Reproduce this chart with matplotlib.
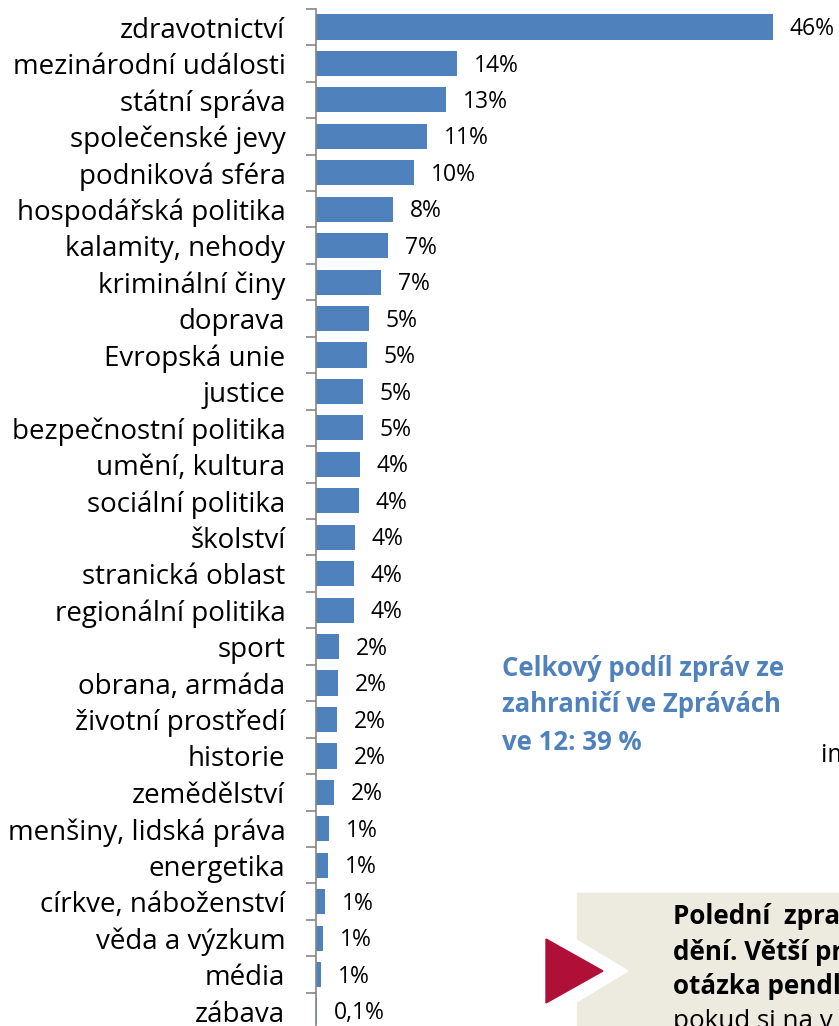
import numpy as np
import matplotlib.pyplot as plt
from matplotlib.patches import Rectangle, Polygon

# categories and share of news items (%)
categories = ['zdravotnictví', 'mezinárodní události', 'státní správa', 'společenské jevy',
              'podniková sféra', 'hospodářská politika', 'kalamity, nehody', 'kriminální činy',
              'doprava', 'Evropská unie', 'justice', 'bezpečnostní politika', 'umění, kultura',
              'sociální politika', 'školství', 'stranická oblast', 'regionální politika',
              'sport', 'obrana, armáda', 'životní prostředí', 'historie', 'zemědělství',
              'menšiny, lidská práva', 'energetika', 'církve, náboženství', 'věda a výzkum',
              'média', 'zábava']
values = [46.0, 14.2, 13.1, 11.2, 9.9, 7.8, 7.3, 6.6, 5.3, 5.1, 4.7, 4.7, 4.4, 4.3,
          3.9, 3.8, 3.8, 2.3, 2.2, 2.1, 2.1, 1.8, 1.3, 1.2, 0.9, 0.7, 0.5, 0.1]
labels = ['46%', '14%', '13%', '11%', '10%', '8%', '7%', '7%', '5%', '5%', '5%', '5%',
          '4%', '4%', '4%', '4%', '4%', '2%', '2%', '2%', '2%', '2%', '1%', '1%', '1%',
          '1%', '1%', '0,1%']

plt.rcParams['font.family'] = ['Open Sans', 'DejaVu Sans']

W, H = 839, 1026
fig = plt.figure(figsize=(W / 100, H / 100), dpi=100)
ax = fig.add_axes([316 / W, 0, 1 - 316 / W, (H - 8.8) / H])

y = np.arange(len(categories))
ax.barh(y, values, height=0.69, color='#4F81BD')
for i in range(len(values)):
    ax.annotate(labels[i], (values[i], i), xytext=(12, -1.5), textcoords='offset points',
                va='center', ha='left', fontsize=16.5)

ax.set_ylim(27.41, -0.5)
ax.set_xlim(0, 52.7)
ax.set_yticks(y)
ax.set_yticklabels(categories, fontsize=20)
ax.tick_params(axis='y', length=0, pad=22)
ax.set_yticks(np.arange(-0.5, 27.5, 1), minor=True)
ax.tick_params(axis='y', which='minor', length=7, color='#868686', width=1.2)
ax.set_xticks([])
for s in ['top', 'right', 'bottom']:
    ax.spines[s].set_visible(False)
ax.spines['left'].set_color('#868686')
ax.spines['left'].set_linewidth(1.2)

# side note
blue = '#4F81BD'
fig.text(502 / W, 1 - 668 / H, 'Celkový podíl zpráv ze', color=blue, fontsize=18.5,
         fontweight='bold', va='center')
fig.text(502 / W, 1 - 705 / H, 'zahraničí ve Zprávách', color=blue, fontsize=18.5,
         fontweight='bold', va='center')
fig.text(502 / W, 1 - 742 / H, 've 12: 39 %', color=blue, fontsize=18.5,
         fontweight='bold', va='center')
fig.text(821 / W, 1 - 755 / H, 'im', color='black', fontsize=18, va='center')

# bottom right box
fig.patches.append(Rectangle((577 / W, 0), 1 - 577 / W, (H - 893) / H,
                             transform=fig.transFigure, color='#EDEBE0', zorder=0))
fig.patches.append(Polygon([(540 / W, 1 - 918 / H), (628 / W, 1 - 971 / H), (540 / W, 1 - 1024 / H)],
                           transform=fig.transFigure, color='white', zorder=1))
fig.patches.append(Polygon([(546 / W, 1 - 939 / H), (603 / W, 1 - 971 / H), (546 / W, 1 - 1003 / H)],
                           transform=fig.transFigure, color='#B01038', zorder=2))
box_lines = ['Polední  zpra', 'dění. Větší pr', 'otázka pendl']
for k, t in enumerate(box_lines):
    fig.text(673 / W, 1 - (917 + 35 * k) / H, t, fontsize=18.7, fontweight='bold',
             va='center', color='black')
fig.text(673 / W, 1 - 1022 / H, 'pokud si na v', fontsize=18.7, va='center', color='black')

fig.savefig('out.png', dpi=100)
